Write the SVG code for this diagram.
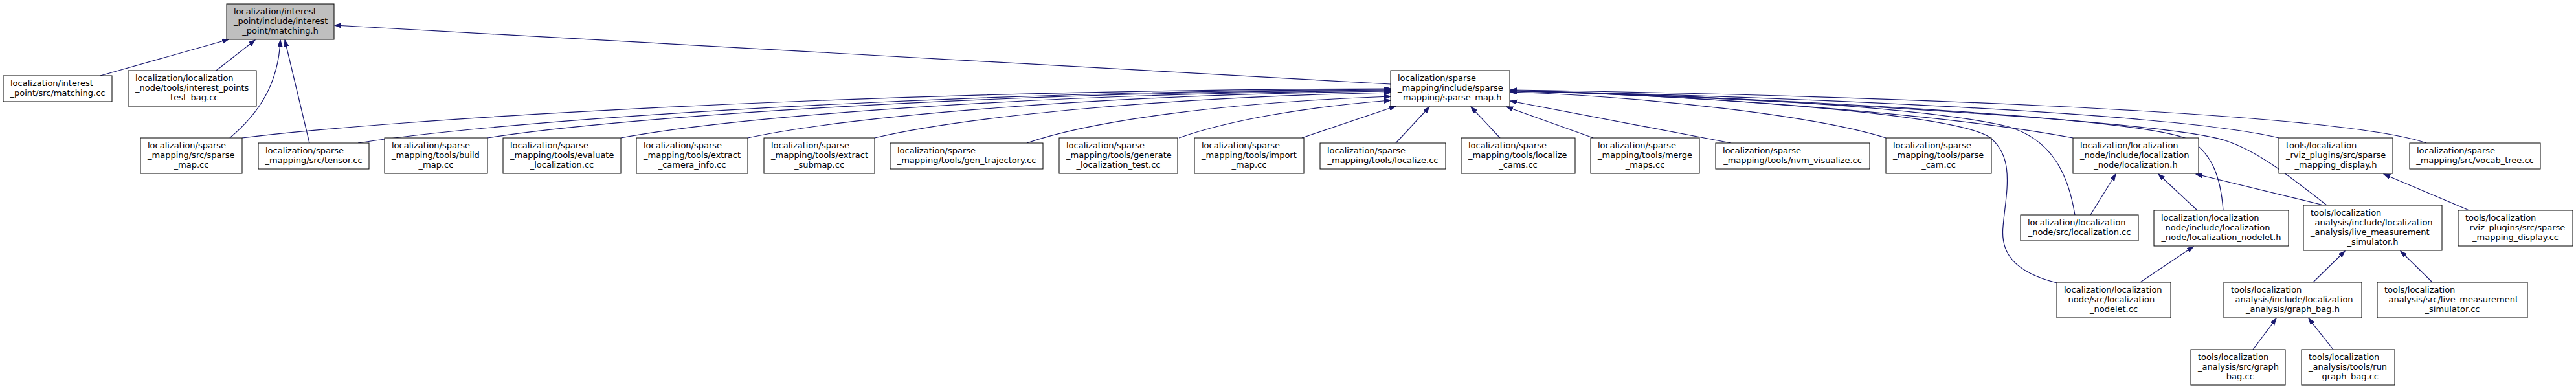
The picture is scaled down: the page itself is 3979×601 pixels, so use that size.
<svg xmlns="http://www.w3.org/2000/svg" width="3979" height="601" viewBox="0 0 3979 601">
<style>
.node rect{fill:#fff;stroke:#000;stroke-width:1}
.root rect{fill:#bfbfbf;stroke:#000;stroke-width:1}
text{font-family:"DejaVu Sans","Liberation Sans",sans-serif;font-size:13px;fill:#000}
.m{text-anchor:middle}
.edge{fill:none;stroke:#191970;stroke-width:1.2}
</style>
<defs>
<marker id="ah" markerUnits="userSpaceOnUse" markerWidth="11" markerHeight="8" refX="10" refY="3.5" orient="auto" viewBox="0 0 11 8">
<path d="M0,0 L10,3.5 L0,7 z" fill="#191970" stroke="#191970" stroke-width="1"/>
</marker>
</defs>
<rect width="3979" height="601" fill="#fff"/>
<g id="connectors">
<path class="edge" marker-end="url(#ah)" d="M155,117 L353,61"/>
<path class="edge" marker-end="url(#ah)" d="M334,109 L394,62"/>
<path class="edge" marker-end="url(#ah)" d="M355,213 C400,175 430,130 433,62"/>
<path class="edge" marker-end="url(#ah)" d="M478,221 L440,62"/>
<path class="edge" marker-end="url(#ah)" d="M2148,130 L517,39"/>
<path class="edge" marker-end="url(#ah)" d="M374,213 C600,185 1300,140 2148,137"/>
<path class="edge" marker-end="url(#ah)" d="M553,221 C760,188 1400,142 2148,138"/>
<path class="edge" marker-end="url(#ah)" d="M753,213 C950,182 1500,143 2148,139"/>
<path class="edge" marker-end="url(#ah)" d="M959,213 C1140,180 1600,144 2148,140"/>
<path class="edge" marker-end="url(#ah)" d="M1155,213 C1310,180 1700,146 2148,141"/>
<path class="edge" marker-end="url(#ah)" d="M1351,213 C1490,180 1800,150 2148,143"/>
<path class="edge" marker-end="url(#ah)" d="M1586,221 C1690,185 1900,158 2148,149"/>
<path class="edge" marker-end="url(#ah)" d="M1821,213 C1900,185 2020,165 2148,155"/>
<path class="edge" marker-end="url(#ah)" d="M2011,213 L2156,164"/>
<path class="edge" marker-end="url(#ah)" d="M2156,221 L2208,165"/>
<path class="edge" marker-end="url(#ah)" d="M2317,213 L2272,165"/>
<path class="edge" marker-end="url(#ah)" d="M2461,213 L2327,165"/>
<path class="edge" marker-end="url(#ah)" d="M2674,221 L2333,156"/>
<path class="edge" marker-end="url(#ah)" d="M2913,213 C2800,178 2550,150 2333,142"/>
<path class="edge" marker-end="url(#ah)" d="M3202,213 C3000,175 2600,146 2333,141"/>
<path class="edge" marker-end="url(#ah)" d="M3205,332 C3195,270 3170,215 3100,195 C2950,160 2550,145 2333,140"/>
<path class="edge" marker-end="url(#ah)" d="M3177,437 C3110,420 3090,390 3094,350 C3098,300 3115,240 3070,210 C3000,172 2600,148 2333,140"/>
<path class="edge" marker-end="url(#ah)" d="M3434,325 C3430,270 3415,235 3380,215 C3300,180 2700,150 2333,140"/>
<path class="edge" marker-end="url(#ah)" d="M3594,317 C3540,275 3490,235 3440,218 C3350,186 2700,151 2333,140"/>
<path class="edge" marker-end="url(#ah)" d="M3520,213 C3350,172 2700,148 2333,140"/>
<path class="edge" marker-end="url(#ah)" d="M3748,221 C3600,170 2800,146 2333,139"/>
<path class="edge" marker-end="url(#ah)" d="M3229,332 L3268,269"/>
<path class="edge" marker-end="url(#ah)" d="M3394,325 L3334,269"/>
<path class="edge" marker-end="url(#ah)" d="M3589,317 L3392,269"/>
<path class="edge" marker-end="url(#ah)" d="M3814,325 L3682,269"/>
<path class="edge" marker-end="url(#ah)" d="M3306,436 L3388,381"/>
<path class="edge" marker-end="url(#ah)" d="M3573,436 L3622,388"/>
<path class="edge" marker-end="url(#ah)" d="M3757,436 L3708,388"/>
<path class="edge" marker-end="url(#ah)" d="M3480,540 L3516,492"/>
<path class="edge" marker-end="url(#ah)" d="M3604,540 L3566,492"/>
</g>
<g id="n_root" class="root"><rect x="350" y="6" width="166" height="55"/><text x="361" y="21.5">localization/interest</text><text x="361" y="36.5">_point/include/interest</text><text class="m" x="433" y="51.5">_point/matching.h</text></g>
<g id="n1" class="node"><rect x="5" y="117" width="168" height="40"/><text x="16" y="132.5">localization/interest</text><text class="m" x="89" y="147.5">_point/src/matching.cc</text></g>
<g id="n2" class="node"><rect x="198" y="109" width="198" height="55"/><text x="209" y="124.5">localization/localization</text><text x="209" y="139.5">_node/tools/interest_points</text><text class="m" x="297" y="154.5">_test_bag.cc</text></g>
<g id="n3" class="node"><rect x="2148" y="109" width="184" height="55"/><text x="2159" y="124.5">localization/sparse</text><text x="2159" y="139.5">_mapping/include/sparse</text><text class="m" x="2240" y="154.5">_mapping/sparse_map.h</text></g>
<g id="n4" class="node"><rect x="217" y="213" width="157" height="55"/><text x="228" y="228.5">localization/sparse</text><text x="228" y="243.5">_mapping/src/sparse</text><text class="m" x="295.5" y="258.5">_map.cc</text></g>
<g id="n5" class="node"><rect x="399" y="221" width="171" height="40"/><text x="410" y="236.5">localization/sparse</text><text class="m" x="484.5" y="251.5">_mapping/src/tensor.cc</text></g>
<g id="n6" class="node"><rect x="594" y="213" width="159" height="55"/><text x="605" y="228.5">localization/sparse</text><text x="605" y="243.5">_mapping/tools/build</text><text class="m" x="673.5" y="258.5">_map.cc</text></g>
<g id="n7" class="node"><rect x="777" y="213" width="182" height="55"/><text x="788" y="228.5">localization/sparse</text><text x="788" y="243.5">_mapping/tools/evaluate</text><text class="m" x="868" y="258.5">_localization.cc</text></g>
<g id="n8" class="node"><rect x="983" y="213" width="172" height="55"/><text x="994" y="228.5">localization/sparse</text><text x="994" y="243.5">_mapping/tools/extract</text><text class="m" x="1069" y="258.5">_camera_info.cc</text></g>
<g id="n9" class="node"><rect x="1180" y="213" width="171" height="55"/><text x="1191" y="228.5">localization/sparse</text><text x="1191" y="243.5">_mapping/tools/extract</text><text class="m" x="1265.5" y="258.5">_submap.cc</text></g>
<g id="n10" class="node"><rect x="1375" y="221" width="236" height="40"/><text x="1386" y="236.5">localization/sparse</text><text class="m" x="1493" y="251.5">_mapping/tools/gen_trajectory.cc</text></g>
<g id="n11" class="node"><rect x="1636" y="213" width="183" height="55"/><text x="1647" y="228.5">localization/sparse</text><text x="1647" y="243.5">_mapping/tools/generate</text><text class="m" x="1727.5" y="258.5">_localization_test.cc</text></g>
<g id="n12" class="node"><rect x="1845" y="213" width="169" height="55"/><text x="1856" y="228.5">localization/sparse</text><text x="1856" y="243.5">_mapping/tools/import</text><text class="m" x="1929.5" y="258.5">_map.cc</text></g>
<g id="n13" class="node"><rect x="2039" y="221" width="194" height="40"/><text x="2050" y="236.5">localization/sparse</text><text class="m" x="2136" y="251.5">_mapping/tools/localize.cc</text></g>
<g id="n14" class="node"><rect x="2257" y="213" width="176" height="55"/><text x="2268" y="228.5">localization/sparse</text><text x="2268" y="243.5">_mapping/tools/localize</text><text class="m" x="2345" y="258.5">_cams.cc</text></g>
<g id="n15" class="node"><rect x="2457" y="213" width="168" height="55"/><text x="2468" y="228.5">localization/sparse</text><text x="2468" y="243.5">_mapping/tools/merge</text><text class="m" x="2541" y="258.5">_maps.cc</text></g>
<g id="n16" class="node"><rect x="2650" y="221" width="238" height="40"/><text x="2661" y="236.5">localization/sparse</text><text class="m" x="2769" y="251.5">_mapping/tools/nvm_visualize.cc</text></g>
<g id="n17" class="node"><rect x="2913" y="213" width="163" height="55"/><text x="2924" y="228.5">localization/sparse</text><text x="2924" y="243.5">_mapping/tools/parse</text><text class="m" x="2994.5" y="258.5">_cam.cc</text></g>
<g id="n18" class="node"><rect x="3202" y="213" width="194" height="55"/><text x="3213" y="228.5">localization/localization</text><text x="3213" y="243.5">_node/include/localization</text><text class="m" x="3299" y="258.5">_node/localization.h</text></g>
<g id="n19" class="node"><rect x="3520" y="213" width="176" height="55"/><text x="3531" y="228.5">tools/localization</text><text x="3531" y="243.5">_rviz_plugins/src/sparse</text><text class="m" x="3608" y="258.5">_mapping_display.h</text></g>
<g id="n20" class="node"><rect x="3722" y="221" width="202" height="40"/><text x="3733" y="236.5">localization/sparse</text><text class="m" x="3823" y="251.5">_mapping/src/vocab_tree.cc</text></g>
<g id="n21" class="node"><rect x="3121" y="332" width="182" height="40"/><text x="3132" y="347.5">localization/localization</text><text class="m" x="3212" y="362.5">_node/src/localization.cc</text></g>
<g id="n22" class="node"><rect x="3327" y="325" width="208" height="55"/><text x="3338" y="340.5">localization/localization</text><text x="3338" y="355.5">_node/include/localization</text><text class="m" x="3431" y="370.5">_node/localization_nodelet.h</text></g>
<g id="n23" class="node"><rect x="3558" y="317" width="214" height="70"/><text x="3569" y="332.5">tools/localization</text><text x="3569" y="347.5">_analysis/include/localization</text><text x="3569" y="362.5">_analysis/live_measurement</text><text class="m" x="3665" y="377.5">_simulator.h</text></g>
<g id="n24" class="node"><rect x="3797" y="325" width="177" height="55"/><text x="3808" y="340.5">tools/localization</text><text x="3808" y="355.5">_rviz_plugins/src/sparse</text><text class="m" x="3885.5" y="370.5">_mapping_display.cc</text></g>
<g id="n25" class="node"><rect x="3177" y="436" width="176" height="55"/><text x="3188" y="451.5">localization/localization</text><text x="3188" y="466.5">_node/src/localization</text><text class="m" x="3265" y="481.5">_nodelet.cc</text></g>
<g id="n26" class="node"><rect x="3435" y="436" width="213" height="55"/><text x="3446" y="451.5">tools/localization</text><text x="3446" y="466.5">_analysis/include/localization</text><text class="m" x="3541.5" y="481.5">_analysis/graph_bag.h</text></g>
<g id="n27" class="node"><rect x="3672" y="436" width="232" height="55"/><text x="3683" y="451.5">tools/localization</text><text x="3683" y="466.5">_analysis/src/live_measurement</text><text class="m" x="3788" y="481.5">_simulator.cc</text></g>
<g id="n28" class="node"><rect x="3384" y="540" width="146" height="55"/><text x="3395" y="555.5">tools/localization</text><text x="3395" y="570.5">_analysis/src/graph</text><text class="m" x="3457" y="585.5">_bag.cc</text></g>
<g id="n29" class="node"><rect x="3555" y="540" width="144" height="55"/><text x="3566" y="555.5">tools/localization</text><text x="3566" y="570.5">_analysis/tools/run</text><text class="m" x="3627" y="585.5">_graph_bag.cc</text></g>
</svg>
